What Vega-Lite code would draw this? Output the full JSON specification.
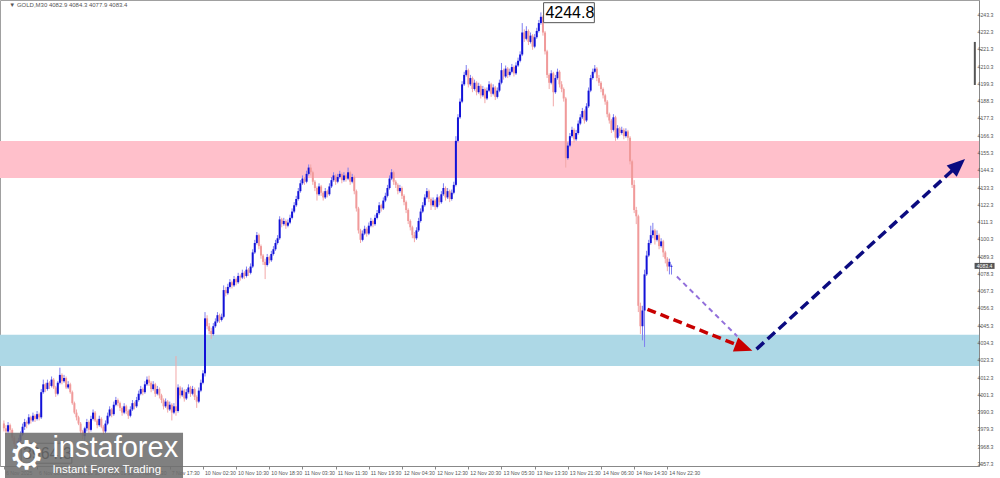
{
"width": 979, "height": 466,
"autosize": {"type": "none"},
"padding": {"left": 0, "top": 0, "right": 21, "bottom": 12},
"background": "white",
"config": {"view": {"stroke": "#a0a0a0"}, "font": "Liberation Sans", "axis": {"labelOverlap": false, "labelBound": false}},
"datasets": {
"zones": [{"zone": "resistance", "lo": 4139.4, "hi": 4162.9}, {"zone": "support", "lo": 4019.7, "hi": 4039.5}],
"ylabels": [{"v":4243.3},{"v":4232.3},{"v":4221.3},{"v":4210.3},{"v":4199.3},{"v":4188.3},{"v":4177.3},{"v":4166.3},{"v":4155.3},{"v":4144.3},{"v":4133.3},{"v":4122.3},{"v":4111.3},{"v":4100.3},{"v":4089.3},{"v":4078.3},{"v":4067.3},{"v":4056.3},{"v":4045.3},{"v":4034.3},{"v":4023.3},{"v":4012.3},{"v":4001.3},{"v":3990.3},{"v":3979.3},{"v":3968.3},{"v":3957.3}],
"candles": [
{"i":0,"o":3983,"h":3985,"l":3978,"c":3980},{"i":1,"o":3980,"h":3982,"l":3976,"c":3978},{"i":2,"o":3978,"h":3984,"l":3977,"c":3982},{"i":3,"o":3982,"h":3983,"l":3977,"c":3979},{"i":4,"o":3979,"h":3980,"l":3972,"c":3974},{"i":5,"o":3974,"h":3975,"l":3968,"c":3970},{"i":6,"o":3970,"h":3972,"l":3966,"c":3968},{"i":7,"o":3968,"h":3974,"l":3964.3,"c":3972},{"i":8,"o":3972,"h":3978,"l":3970,"c":3976},{"i":9,"o":3976,"h":3983,"l":3975,"c":3981},
{"i":10,"o":3981,"h":3986,"l":3979,"c":3984},{"i":11,"o":3984,"h":3985,"l":3980,"c":3983},{"i":12,"o":3983,"h":3989,"l":3982,"c":3987},{"i":13,"o":3987,"h":3988,"l":3983,"c":3985},{"i":14,"o":3985,"h":3990,"l":3984,"c":3988},{"i":15,"o":3988,"h":3989,"l":3984,"c":3986},{"i":16,"o":3986,"h":3991,"l":3985,"c":3989},{"i":17,"o":3989,"h":3990,"l":3985,"c":3987},{"i":18,"o":3987,"h":4005,"l":3986,"c":4003},{"i":19,"o":4003,"h":4011,"l":4002,"c":4008},
{"i":20,"o":4008,"h":4009,"l":4003,"c":4005},{"i":21,"o":4005,"h":4011,"l":4004,"c":4009},{"i":22,"o":4009,"h":4010,"l":4005,"c":4007},{"i":23,"o":4007,"h":4013,"l":4006,"c":4011},{"i":24,"o":4011,"h":4012,"l":4005,"c":4006},{"i":25,"o":4006,"h":4007,"l":4000,"c":4002},{"i":26,"o":4002,"h":4010,"l":4001,"c":4009},{"i":27,"o":4009,"h":4018.6,"l":4008,"c":4014},{"i":28,"o":4014,"h":4015,"l":4008,"c":4010},{"i":29,"o":4010,"h":4014,"l":4009,"c":4012},
{"i":30,"o":4012,"h":4013,"l":4005,"c":4006},{"i":31,"o":4006,"h":4010,"l":4005,"c":4008},{"i":32,"o":4008,"h":4009,"l":4002,"c":4003},{"i":33,"o":4003,"h":4004,"l":3995,"c":3996},{"i":34,"o":3996,"h":3997,"l":3989,"c":3990},{"i":35,"o":3990,"h":3992,"l":3985,"c":3987},{"i":36,"o":3987,"h":3988,"l":3982,"c":3983},{"i":37,"o":3983,"h":3984,"l":3976,"c":3978},{"i":38,"o":3978,"h":3979,"l":3973,"c":3975},{"i":39,"o":3975,"h":3981,"l":3970.7,"c":3980},
{"i":40,"o":3980,"h":3986,"l":3978,"c":3984},{"i":41,"o":3984,"h":3985,"l":3977,"c":3979},{"i":42,"o":3979,"h":3988,"l":3978,"c":3986},{"i":43,"o":3986,"h":3992,"l":3985,"c":3990},{"i":44,"o":3990,"h":3991,"l":3984,"c":3985},{"i":45,"o":3985,"h":3986,"l":3980,"c":3982},{"i":46,"o":3982,"h":3988,"l":3981,"c":3986},{"i":47,"o":3986,"h":3987,"l":3980,"c":3981},{"i":48,"o":3981,"h":3982,"l":3976,"c":3978},{"i":49,"o":3978,"h":3985,"l":3977,"c":3983},
{"i":50,"o":3983,"h":3990,"l":3982,"c":3988},{"i":51,"o":3988,"h":3994,"l":3987,"c":3992},{"i":52,"o":3992,"h":3993,"l":3987,"c":3989},{"i":53,"o":3989,"h":3997,"l":3988,"c":3995},{"i":54,"o":3995,"h":4000,"l":3994,"c":3998},{"i":55,"o":3998,"h":3999,"l":3994,"c":3996},{"i":56,"o":3996,"h":3997,"l":3991,"c":3993},{"i":57,"o":3993,"h":3994,"l":3988,"c":3990},{"i":58,"o":3990,"h":3996,"l":3989,"c":3994},{"i":59,"o":3994,"h":3995,"l":3989,"c":3991},
{"i":60,"o":3991,"h":3992,"l":3986,"c":3988},{"i":61,"o":3988,"h":3994,"l":3987,"c":3992},{"i":62,"o":3992,"h":3998,"l":3991,"c":3996},{"i":63,"o":3996,"h":3997,"l":3992,"c":3994},{"i":64,"o":3994,"h":4000,"l":3993,"c":3998},{"i":65,"o":3998,"h":4004,"l":3997,"c":4002},{"i":66,"o":4002,"h":4007,"l":4001,"c":4005},{"i":67,"o":4005,"h":4006,"l":4001,"c":4003},{"i":68,"o":4003,"h":4010,"l":4002,"c":4008},{"i":69,"o":4008,"h":4013,"l":4007,"c":4011},
{"i":70,"o":4011,"h":4013.5,"l":4007,"c":4009},{"i":71,"o":4009,"h":4010,"l":4003,"c":4005},{"i":72,"o":4005,"h":4010,"l":4004,"c":4008},{"i":73,"o":4008,"h":4009,"l":4000,"c":4002},{"i":74,"o":4002,"h":4007,"l":4001,"c":4005},{"i":75,"o":4005,"h":4006,"l":3999,"c":4001},{"i":76,"o":4001,"h":4002,"l":3996,"c":3998},{"i":77,"o":3998,"h":3999,"l":3992,"c":3994},{"i":78,"o":3994,"h":3999,"l":3993,"c":3997},{"i":79,"o":3997,"h":3998,"l":3990,"c":3992},
{"i":80,"o":3992,"h":3997,"l":3991,"c":3995},{"i":81,"o":3995,"h":3996,"l":3985,"c":3990},{"i":82,"o":3990,"h":3996,"l":3989,"c":3994},{"i":83,"o":3994,"h":4026,"l":3988,"c":3991},{"i":84,"o":3991,"h":4008,"l":3990,"c":4006},{"i":85,"o":4006,"h":4007,"l":3999,"c":4001},{"i":86,"o":4001,"h":4006,"l":4000,"c":4004},{"i":87,"o":4004,"h":4005,"l":3997,"c":3999},{"i":88,"o":3999,"h":4005,"l":3998,"c":4003},{"i":89,"o":4003,"h":4008,"l":4002,"c":4006},
{"i":90,"o":4006,"h":4007,"l":4000,"c":4002},{"i":91,"o":4002,"h":4007,"l":4001,"c":4005},{"i":92,"o":4005,"h":4006,"l":3998,"c":4000},{"i":93,"o":4000,"h":4001,"l":3993,"c":3997},{"i":94,"o":3997,"h":4006,"l":3996,"c":4004},{"i":95,"o":4004,"h":4011,"l":4003,"c":4009},{"i":96,"o":4009,"h":4017,"l":4008,"c":4015},{"i":97,"o":4015,"h":4054,"l":4013,"c":4050},{"i":98,"o":4050,"h":4052,"l":4043,"c":4045},{"i":99,"o":4045,"h":4047,"l":4040,"c":4042},
{"i":100,"o":4042,"h":4044,"l":4037,"c":4040},{"i":101,"o":4040,"h":4047,"l":4039,"c":4045},{"i":102,"o":4045,"h":4050,"l":4044,"c":4048},{"i":103,"o":4048,"h":4054,"l":4047,"c":4052},{"i":104,"o":4052,"h":4053,"l":4047,"c":4049},{"i":105,"o":4049,"h":4053,"l":4048,"c":4051},{"i":106,"o":4051,"h":4071,"l":4050,"c":4068},{"i":107,"o":4068,"h":4070,"l":4064,"c":4066},{"i":108,"o":4066,"h":4072,"l":4065,"c":4070},{"i":109,"o":4070,"h":4075,"l":4069,"c":4073},
{"i":110,"o":4073,"h":4074,"l":4069,"c":4071},{"i":111,"o":4071,"h":4077,"l":4070,"c":4075},{"i":112,"o":4075,"h":4076,"l":4071,"c":4073},{"i":113,"o":4073,"h":4079,"l":4072,"c":4077},{"i":114,"o":4077,"h":4078,"l":4074,"c":4076},{"i":115,"o":4076,"h":4081,"l":4075,"c":4079},{"i":116,"o":4079,"h":4080,"l":4075,"c":4077},{"i":117,"o":4077,"h":4083,"l":4076,"c":4081},{"i":118,"o":4081,"h":4082,"l":4077,"c":4079},{"i":119,"o":4079,"h":4085,"l":4078,"c":4083},
{"i":120,"o":4083,"h":4094,"l":4082,"c":4092},{"i":121,"o":4092,"h":4100,"l":4091,"c":4098},{"i":122,"o":4098,"h":4105,"l":4097,"c":4103},{"i":123,"o":4103,"h":4104,"l":4094,"c":4096},{"i":124,"o":4096,"h":4097,"l":4088,"c":4090},{"i":125,"o":4090,"h":4091,"l":4084,"c":4086},{"i":126,"o":4086,"h":4088,"l":4075,"c":4084},{"i":127,"o":4084,"h":4091,"l":4083,"c":4089},{"i":128,"o":4089,"h":4090,"l":4085,"c":4087},{"i":129,"o":4087,"h":4093,"l":4086,"c":4091},
{"i":130,"o":4091,"h":4096,"l":4090,"c":4094},{"i":131,"o":4094,"h":4100,"l":4093,"c":4098},{"i":132,"o":4098,"h":4103,"l":4097,"c":4101},{"i":133,"o":4101,"h":4115,"l":4100,"c":4113},{"i":134,"o":4113,"h":4114,"l":4108,"c":4110},{"i":135,"o":4110,"h":4114,"l":4109,"c":4112},{"i":136,"o":4112,"h":4113,"l":4107,"c":4109},{"i":137,"o":4109,"h":4113,"l":4108,"c":4111},{"i":138,"o":4111,"h":4116,"l":4110,"c":4114},{"i":139,"o":4114,"h":4120,"l":4113,"c":4118},
{"i":140,"o":4118,"h":4124,"l":4117,"c":4122},{"i":141,"o":4122,"h":4128,"l":4121,"c":4126},{"i":142,"o":4126,"h":4133,"l":4125,"c":4131},{"i":143,"o":4131,"h":4138,"l":4130,"c":4136},{"i":144,"o":4136,"h":4141,"l":4135,"c":4139},{"i":145,"o":4139,"h":4140,"l":4135,"c":4137},{"i":146,"o":4137,"h":4144,"l":4136,"c":4142},{"i":147,"o":4142,"h":4148,"l":4141,"c":4146},{"i":148,"o":4146,"h":4148,"l":4141,"c":4143},{"i":149,"o":4143,"h":4144,"l":4135,"c":4137},
{"i":150,"o":4137,"h":4138,"l":4131,"c":4133},{"i":151,"o":4133,"h":4134,"l":4125,"c":4129},{"i":152,"o":4129,"h":4136,"l":4128,"c":4134},{"i":153,"o":4134,"h":4135,"l":4128,"c":4130},{"i":154,"o":4130,"h":4131,"l":4125,"c":4127},{"i":155,"o":4127,"h":4133,"l":4126,"c":4131},{"i":156,"o":4131,"h":4132,"l":4127,"c":4129},{"i":157,"o":4129,"h":4136,"l":4128,"c":4134},{"i":158,"o":4134,"h":4140,"l":4133,"c":4138},{"i":159,"o":4138,"h":4143,"l":4137,"c":4141},
{"i":160,"o":4141,"h":4142,"l":4135,"c":4137},{"i":161,"o":4137,"h":4142,"l":4136,"c":4140},{"i":162,"o":4140,"h":4144,"l":4139,"c":4142},{"i":163,"o":4142,"h":4143,"l":4136,"c":4138},{"i":164,"o":4138,"h":4143,"l":4137,"c":4141},{"i":165,"o":4141,"h":4142,"l":4137,"c":4139},{"i":166,"o":4139,"h":4146,"l":4138,"c":4143},{"i":167,"o":4143,"h":4144,"l":4135,"c":4137},{"i":168,"o":4137,"h":4142,"l":4136,"c":4140},{"i":169,"o":4140,"h":4141,"l":4129,"c":4131},
{"i":170,"o":4131,"h":4132,"l":4118,"c":4120},{"i":171,"o":4120,"h":4121,"l":4104,"c":4106},{"i":172,"o":4106,"h":4107,"l":4098,"c":4100},{"i":173,"o":4100,"h":4106,"l":4099,"c":4104},{"i":174,"o":4104,"h":4109,"l":4103,"c":4107},{"i":175,"o":4107,"h":4108,"l":4102,"c":4104},{"i":176,"o":4104,"h":4111,"l":4103,"c":4109},{"i":177,"o":4109,"h":4114,"l":4108,"c":4112},{"i":178,"o":4112,"h":4113,"l":4108,"c":4110},{"i":179,"o":4110,"h":4116,"l":4109,"c":4114},
{"i":180,"o":4114,"h":4119,"l":4113,"c":4117},{"i":181,"o":4117,"h":4124,"l":4116,"c":4122},{"i":182,"o":4122,"h":4123,"l":4118,"c":4120},{"i":183,"o":4120,"h":4127,"l":4119,"c":4125},{"i":184,"o":4125,"h":4130,"l":4124,"c":4128},{"i":185,"o":4128,"h":4135,"l":4127,"c":4133},{"i":186,"o":4133,"h":4141,"l":4132,"c":4139},{"i":187,"o":4139,"h":4145,"l":4138,"c":4143},{"i":188,"o":4143,"h":4144,"l":4135,"c":4137},{"i":189,"o":4137,"h":4138,"l":4133,"c":4135},
{"i":190,"o":4135,"h":4136,"l":4129,"c":4131},{"i":191,"o":4131,"h":4135,"l":4130,"c":4133},{"i":192,"o":4133,"h":4134,"l":4126,"c":4128},{"i":193,"o":4128,"h":4129,"l":4122,"c":4124},{"i":194,"o":4124,"h":4125,"l":4117,"c":4119},{"i":195,"o":4119,"h":4120,"l":4110,"c":4112},{"i":196,"o":4112,"h":4113,"l":4106,"c":4108},{"i":197,"o":4108,"h":4109,"l":4101,"c":4103},{"i":198,"o":4103,"h":4105,"l":4098.5,"c":4101},{"i":199,"o":4101,"h":4108,"l":4100,"c":4106},
{"i":200,"o":4106,"h":4114,"l":4105,"c":4112},{"i":201,"o":4112,"h":4120,"l":4111,"c":4118},{"i":202,"o":4118,"h":4124,"l":4117,"c":4122},{"i":203,"o":4122,"h":4129,"l":4121,"c":4127},{"i":204,"o":4127,"h":4133,"l":4126,"c":4131},{"i":205,"o":4131,"h":4132,"l":4124,"c":4126},{"i":206,"o":4126,"h":4127,"l":4119,"c":4122},{"i":207,"o":4122,"h":4127,"l":4121,"c":4125},{"i":208,"o":4125,"h":4126,"l":4119,"c":4121},{"i":209,"o":4121,"h":4129,"l":4120,"c":4127},
{"i":210,"o":4127,"h":4128,"l":4122,"c":4124},{"i":211,"o":4124,"h":4131,"l":4123,"c":4129},{"i":212,"o":4129,"h":4136,"l":4128,"c":4133},{"i":213,"o":4133,"h":4134,"l":4125,"c":4127},{"i":214,"o":4127,"h":4133,"l":4126,"c":4131},{"i":215,"o":4131,"h":4132,"l":4124,"c":4126},{"i":216,"o":4126,"h":4132,"l":4125,"c":4130},{"i":217,"o":4130,"h":4137,"l":4129,"c":4135},{"i":218,"o":4135,"h":4166,"l":4134,"c":4163},{"i":219,"o":4163,"h":4180,"l":4162,"c":4178},
{"i":220,"o":4178,"h":4190,"l":4177,"c":4188},{"i":221,"o":4188,"h":4201,"l":4187,"c":4199},{"i":222,"o":4199,"h":4207,"l":4198,"c":4205},{"i":223,"o":4205,"h":4211.3,"l":4204,"c":4208},{"i":224,"o":4208,"h":4209,"l":4197,"c":4199},{"i":225,"o":4199,"h":4205,"l":4198,"c":4203},{"i":226,"o":4203,"h":4204,"l":4194,"c":4196},{"i":227,"o":4196,"h":4202,"l":4195,"c":4200},{"i":228,"o":4200,"h":4201,"l":4192,"c":4194},{"i":229,"o":4194,"h":4200,"l":4193,"c":4198},
{"i":230,"o":4198,"h":4199,"l":4190,"c":4192},{"i":231,"o":4192,"h":4198,"l":4191,"c":4196},{"i":232,"o":4196,"h":4197,"l":4187,"c":4190},{"i":233,"o":4190,"h":4197,"l":4189,"c":4195},{"i":234,"o":4195,"h":4201,"l":4194,"c":4199},{"i":235,"o":4199,"h":4200,"l":4191,"c":4193},{"i":236,"o":4193,"h":4199,"l":4192,"c":4197},{"i":237,"o":4197,"h":4198,"l":4189,"c":4191},{"i":238,"o":4191,"h":4197,"l":4190,"c":4195},{"i":239,"o":4195,"h":4202,"l":4194,"c":4200},
{"i":240,"o":4200,"h":4212.6,"l":4199,"c":4208},{"i":241,"o":4208,"h":4209,"l":4202,"c":4204},{"i":242,"o":4204,"h":4211,"l":4203,"c":4209},{"i":243,"o":4209,"h":4210,"l":4203,"c":4205},{"i":244,"o":4205,"h":4209,"l":4204,"c":4207},{"i":245,"o":4207,"h":4212,"l":4206,"c":4210},{"i":246,"o":4210,"h":4211,"l":4204,"c":4206},{"i":247,"o":4206,"h":4213,"l":4205,"c":4211},{"i":248,"o":4211,"h":4216,"l":4210,"c":4214},{"i":249,"o":4214,"h":4220,"l":4213,"c":4218},
{"i":250,"o":4218,"h":4238,"l":4217,"c":4232},{"i":251,"o":4232,"h":4234,"l":4226,"c":4228},{"i":252,"o":4228,"h":4236,"l":4227,"c":4233},{"i":253,"o":4233,"h":4234,"l":4224,"c":4226},{"i":254,"o":4226,"h":4232,"l":4225,"c":4230},{"i":255,"o":4230,"h":4231,"l":4221,"c":4223},{"i":256,"o":4223,"h":4231,"l":4222,"c":4229},{"i":257,"o":4229,"h":4235,"l":4228,"c":4233},{"i":258,"o":4233,"h":4240,"l":4232,"c":4238},{"i":259,"o":4238,"h":4244.8,"l":4237,"c":4242},
{"i":260,"o":4242,"h":4243,"l":4230,"c":4232},{"i":261,"o":4232,"h":4233,"l":4218,"c":4220},{"i":262,"o":4220,"h":4221,"l":4203,"c":4205},{"i":263,"o":4205,"h":4206,"l":4196,"c":4200},{"i":264,"o":4200,"h":4208,"l":4199,"c":4206},{"i":265,"o":4206,"h":4207,"l":4185,"c":4194},{"i":266,"o":4194,"h":4205,"l":4193,"c":4203},{"i":267,"o":4203,"h":4209,"l":4202,"c":4207},{"i":268,"o":4207,"h":4208,"l":4197,"c":4199},{"i":269,"o":4199,"h":4201,"l":4194,"c":4196},
{"i":270,"o":4196,"h":4197,"l":4188,"c":4190},{"i":271,"o":4190,"h":4191,"l":4146,"c":4152},{"i":272,"o":4152,"h":4162,"l":4151,"c":4160},{"i":273,"o":4160,"h":4168,"l":4159,"c":4166},{"i":274,"o":4166,"h":4172,"l":4165,"c":4170},{"i":275,"o":4170,"h":4171,"l":4162,"c":4164},{"i":276,"o":4164,"h":4170,"l":4163,"c":4168},{"i":277,"o":4168,"h":4176,"l":4167,"c":4174},{"i":278,"o":4174,"h":4180,"l":4173,"c":4178},{"i":279,"o":4178,"h":4184,"l":4177,"c":4182},
{"i":280,"o":4182,"h":4183,"l":4174,"c":4176},{"i":281,"o":4176,"h":4187,"l":4175,"c":4185},{"i":282,"o":4185,"h":4197,"l":4184,"c":4195},{"i":283,"o":4195,"h":4205,"l":4194,"c":4203},{"i":284,"o":4203,"h":4209,"l":4202,"c":4207},{"i":285,"o":4207,"h":4211.3,"l":4206,"c":4209},{"i":286,"o":4209,"h":4210,"l":4201,"c":4203},{"i":287,"o":4203,"h":4205,"l":4198,"c":4200},{"i":288,"o":4200,"h":4201,"l":4194,"c":4196},{"i":289,"o":4196,"h":4197,"l":4190,"c":4192},
{"i":290,"o":4192,"h":4193,"l":4186,"c":4188},{"i":291,"o":4188,"h":4189,"l":4178,"c":4180},{"i":292,"o":4180,"h":4181,"l":4174,"c":4176},{"i":293,"o":4176,"h":4177,"l":4168,"c":4170},{"i":294,"o":4170,"h":4180,"l":4169,"c":4178},{"i":295,"o":4178,"h":4179,"l":4163,"c":4165},{"i":296,"o":4165,"h":4173,"l":4164,"c":4171},{"i":297,"o":4171,"h":4172,"l":4166,"c":4168},{"i":298,"o":4168,"h":4172,"l":4167,"c":4170},{"i":299,"o":4170,"h":4171,"l":4164,"c":4166},
{"i":300,"o":4166,"h":4171,"l":4165,"c":4169},{"i":301,"o":4169,"h":4170,"l":4163,"c":4165},{"i":302,"o":4165,"h":4166,"l":4148,"c":4150},{"i":303,"o":4150,"h":4151,"l":4133,"c":4135},{"i":304,"o":4135,"h":4138,"l":4117,"c":4119},{"i":305,"o":4119,"h":4121,"l":4110,"c":4115},{"i":306,"o":4115,"h":4116,"l":4054,"c":4058},{"i":307,"o":4058,"h":4060,"l":4040,"c":4045},{"i":308,"o":4045,"h":4058,"l":4036,"c":4055},{"i":309,"o":4055,"h":4081,"l":4031.8,"c":4078},
{"i":310,"o":4078,"h":4093,"l":4077,"c":4090},{"i":311,"o":4090,"h":4100,"l":4089,"c":4098},{"i":312,"o":4098,"h":4109,"l":4097,"c":4103},{"i":313,"o":4103,"h":4110.8,"l":4101,"c":4106},{"i":314,"o":4106,"h":4107,"l":4097,"c":4100},{"i":315,"o":4100,"h":4106,"l":4099,"c":4103},{"i":316,"o":4103,"h":4104,"l":4094,"c":4096},{"i":317,"o":4096,"h":4101,"l":4095,"c":4099},{"i":318,"o":4099,"h":4100,"l":4089,"c":4092},{"i":319,"o":4092,"h":4093,"l":4085,"c":4088},
{"i":320,"o":4088,"h":4089,"l":4080,"c":4083},{"i":321,"o":4083,"h":4088,"l":4078,"c":4086},{"i":322,"o":4082.9,"h":4084.3,"l":4077.9,"c":4083.4}
],
"extremes": [{"i": 259, "p": 4244.8, "t": "4244.8"}, {"i": 7, "p": 3964.3, "t": "3964.3"}],
"purple": [{"i": 324.6, "p": 4076.6}, {"i": 353.7, "p": 4038.6}],
"red": [{"i": 310.4, "p": 4055.8}, {"i": 356.5, "p": 4031.6}],
"redhead": [{"i": 356.5, "p": 4031.6}],
"navy": [{"i": 363.0, "p": 4030.4}, {"i": 460.0, "p": 4147.2}],
"navyhead": [{"i": 460.0, "p": 4147.2}],
"logo": [{"x1": 0.53, "x2": 86.4, "y1": 3977.1, "y2": 3948.4}]
},
"layer": [
{"data": {"name": "zones"}, "mark": {"type": "rect"},
 "encoding": {
  "y": {"field": "lo", "type": "quantitative", "title": null, "scale": {"domain": [3956.0, 4252.7], "nice": false, "zero": false}},
  "y2": {"field": "hi"},
  "color": {"field": "zone", "type": "nominal", "scale": {"domain": ["resistance", "support"], "range": ["#ffc0cb", "#add8e6"]}, "legend": null}
 }},
{"data": {"name": "candles"}, "mark": {"type": "rule", "strokeWidth": 1},
 "encoding": {
  "x": {"field": "i", "type": "quantitative", "scale": {"domain": [0.53, 467.9], "nice": false, "zero": false},
   "axis": {"title": null, "values": [0,16,32,48,64,80,96,112,128,144,160,176,192,208,224,240,256,272,288,304,320], "labelExpr": "['6 Nov 2025','6 Nov 08:30','6 Nov 16:30','7 Nov 01:30','7 Nov 09:30','7 Nov 17:30','10 Nov 02:30','10 Nov 10:30','10 Nov 18:30','11 Nov 03:30','11 Nov 11:30','11 Nov 19:30','12 Nov 04:30','12 Nov 12:30','12 Nov 20:30','13 Nov 05:30','13 Nov 13:30','13 Nov 21:30','14 Nov 06:30','14 Nov 14:30','14 Nov 22:30'][datum.value/16]", "labelAlign": "left", "labelBaseline": "top", "labelFontSize": 5.2, "labelColor": "#555", "labelFont": "Liberation Sans", "labelPadding": 1, "labelOffset": 1.5, "tickSize": 3, "tickColor": "#888", "domainColor": "#888", "grid": false, "labelOverlap": false, "labelBound": false, "labelFlush": false}},
  "y": {"field": "l", "type": "quantitative", "scale": {"domain": [3956.0, 4252.7], "nice": false, "zero": false},
   "axis": {"orient": "right", "title": null, "values": [4243.3,4232.3,4221.3,4210.3,4199.3,4188.3,4177.3,4166.3,4155.3,4144.3,4133.3,4122.3,4111.3,4100.3,4089.3,4078.3,4067.3,4056.3,4045.3,4034.3,4023.3,4012.3,4001.3,3990.3,3979.3,3968.3,3957.3], "labels": false, "tickSize": 2, "tickColor": "#888", "domainColor": "#888", "grid": false}},
  "y2": {"field": "h"},
  "color": {"condition": {"test": "datum.c >= datum.o", "value": "#7f7ff0"}, "value": "#f2a8a8"}
 }},
{"data": {"name": "candles"}, "mark": {"type": "bar", "size": 2},
 "encoding": {
  "x": {"field": "i", "type": "quantitative", "title": null},
  "y": {"field": "o", "type": "quantitative", "title": null},
  "y2": {"field": "c"},
  "color": {"condition": {"test": "datum.c >= datum.o", "value": "#1212d8"}, "value": "#f09a9a"}
 }},
{"data": {"name": "ylabels"}, "mark": {"type": "text", "align": "left", "baseline": "middle", "fontSize": 5.2, "font": "Liberation Sans", "color": "#555"},
 "encoding": {"x": {"datum": 469.6, "type": "quantitative"}, "y": {"field": "v", "type": "quantitative", "title": null}, "text": {"field": "v", "type": "quantitative", "format": ".1f"}}},
{"data": {"name": "purple"}, "mark": {"type": "line", "color": "#9370db", "strokeWidth": 2, "strokeDash": [5, 4]},
 "encoding": {"x": {"field": "i", "type": "quantitative", "title": null}, "y": {"field": "p", "type": "quantitative", "title": null}}},
{"data": {"name": "red"}, "mark": {"type": "line", "color": "#c80000", "strokeWidth": 3.5, "strokeDash": [9, 5]},
 "encoding": {"x": {"field": "i", "type": "quantitative", "title": null}, "y": {"field": "p", "type": "quantitative", "title": null}}},
{"data": {"name": "redhead"}, "mark": {"type": "point", "shape": "M0,-1L0.75,0.8L-0.75,0.8Z", "size": 400, "angle": 110.9, "filled": true, "color": "#c80000", "opacity": 1},
 "encoding": {"x": {"field": "i", "type": "quantitative", "title": null}, "y": {"field": "p", "type": "quantitative", "title": null}}},
{"data": {"name": "navy"}, "mark": {"type": "line", "color": "#0b0b80", "strokeWidth": 3.5, "strokeDash": [10, 5]},
 "encoding": {"x": {"field": "i", "type": "quantitative", "title": null}, "y": {"field": "p", "type": "quantitative", "title": null}}},
{"data": {"name": "navyhead"}, "mark": {"type": "point", "shape": "M0,-1L0.75,0.8L-0.75,0.8Z", "size": 400, "angle": 47.9, "filled": true, "color": "#0b0b80", "opacity": 1},
 "encoding": {"x": {"field": "i", "type": "quantitative", "title": null}, "y": {"field": "p", "type": "quantitative", "title": null}}},
{"data": {"name": "extremes"}, "mark": {"type": "point", "shape": "M0.1,-0.36H1.98V0.38H0.1Z", "size": 2916, "filled": true, "fill": "white", "stroke": "#555", "strokeWidth": 1, "opacity": 1},
 "encoding": {"x": {"field": "i", "type": "quantitative", "title": null}, "y": {"field": "p", "type": "quantitative", "title": null}}},
{"data": {"name": "extremes"}, "mark": {"type": "text", "align": "left", "baseline": "middle", "dx": 4.5, "dy": 1, "fontSize": 16, "color": "#000"},
 "encoding": {"x": {"field": "i", "type": "quantitative", "title": null}, "y": {"field": "p", "type": "quantitative", "title": null}, "text": {"field": "t"}}},
{"data": {"values": [{"i": 2.6, "p": 4249.5, "t": "▼ GOLD,M30  4082.9 4084.3 4077.9 4083.4"}]}, "mark": {"type": "text", "align": "left", "baseline": "middle", "fontSize": 6, "font": "Liberation Sans", "color": "#555"},
 "encoding": {"x": {"field": "i", "type": "quantitative", "title": null}, "y": {"field": "p", "type": "quantitative", "title": null}, "text": {"field": "t"}}},
{"data": {"values": [{"i": 473.0, "p": 4083.4, "t": "4083.4"}]}, "mark": {"type": "point", "shape": "M-1,-0.3H1V0.3H-1Z", "size": 400, "filled": true, "color": "#555", "opacity": 1},
 "encoding": {"x": {"field": "i", "type": "quantitative", "title": null}, "y": {"field": "p", "type": "quantitative", "title": null}}},
{"data": {"values": [{"i": 473.0, "p": 4083.4, "t": "4083.4"}]}, "mark": {"type": "text", "align": "center", "baseline": "middle", "fontSize": 5.2, "font": "Liberation Sans", "color": "white"},
 "encoding": {"x": {"field": "i", "type": "quantitative", "title": null}, "y": {"field": "p", "type": "quantitative", "title": null}, "text": {"field": "t"}}},
{"data": {"values": [{"i": 468.3, "p1": 4226.0, "p2": 4198.6}]}, "mark": {"type": "rule", "strokeWidth": 2, "color": "#555"},
 "encoding": {"x": {"field": "i", "type": "quantitative", "title": null}, "y": {"field": "p1", "type": "quantitative", "title": null}, "y2": {"field": "p2"}}},
{"data": {"name": "logo"}, "mark": {"type": "rect", "color": "#6e6e6e", "opacity": 0.88},
 "encoding": {"x": {"field": "x1", "type": "quantitative", "title": null}, "x2": {"field": "x2"}, "y": {"field": "y1", "type": "quantitative", "title": null}, "y2": {"field": "y2"}}},
{"data": {"values": [{"i": 11.0, "p": 3962.0, "t": "⚙"}]}, "mark": {"type": "text", "align": "center", "baseline": "middle", "fontSize": 40, "font": "DejaVu Sans", "color": "white"},
 "encoding": {"x": {"field": "i", "type": "quantitative", "title": null}, "y": {"field": "p", "type": "quantitative", "title": null}, "text": {"field": "t"}}},
{"data": {"values": [{"i": 23.4, "p": 3961.9, "t": "instaforex"}]}, "mark": {"type": "text", "align": "left", "baseline": "alphabetic", "fontSize": 29, "color": "white"},
 "encoding": {"x": {"field": "i", "type": "quantitative", "title": null}, "y": {"field": "p", "type": "quantitative", "title": null}, "text": {"field": "t"}}},
{"data": {"values": [{"i": 23.4, "p": 3951.7, "t": "Instant Forex Trading"}]}, "mark": {"type": "text", "align": "left", "baseline": "alphabetic", "fontSize": 11.5, "color": "white"},
 "encoding": {"x": {"field": "i", "type": "quantitative", "title": null}, "y": {"field": "p", "type": "quantitative", "title": null}, "text": {"field": "t"}}}
]
}
